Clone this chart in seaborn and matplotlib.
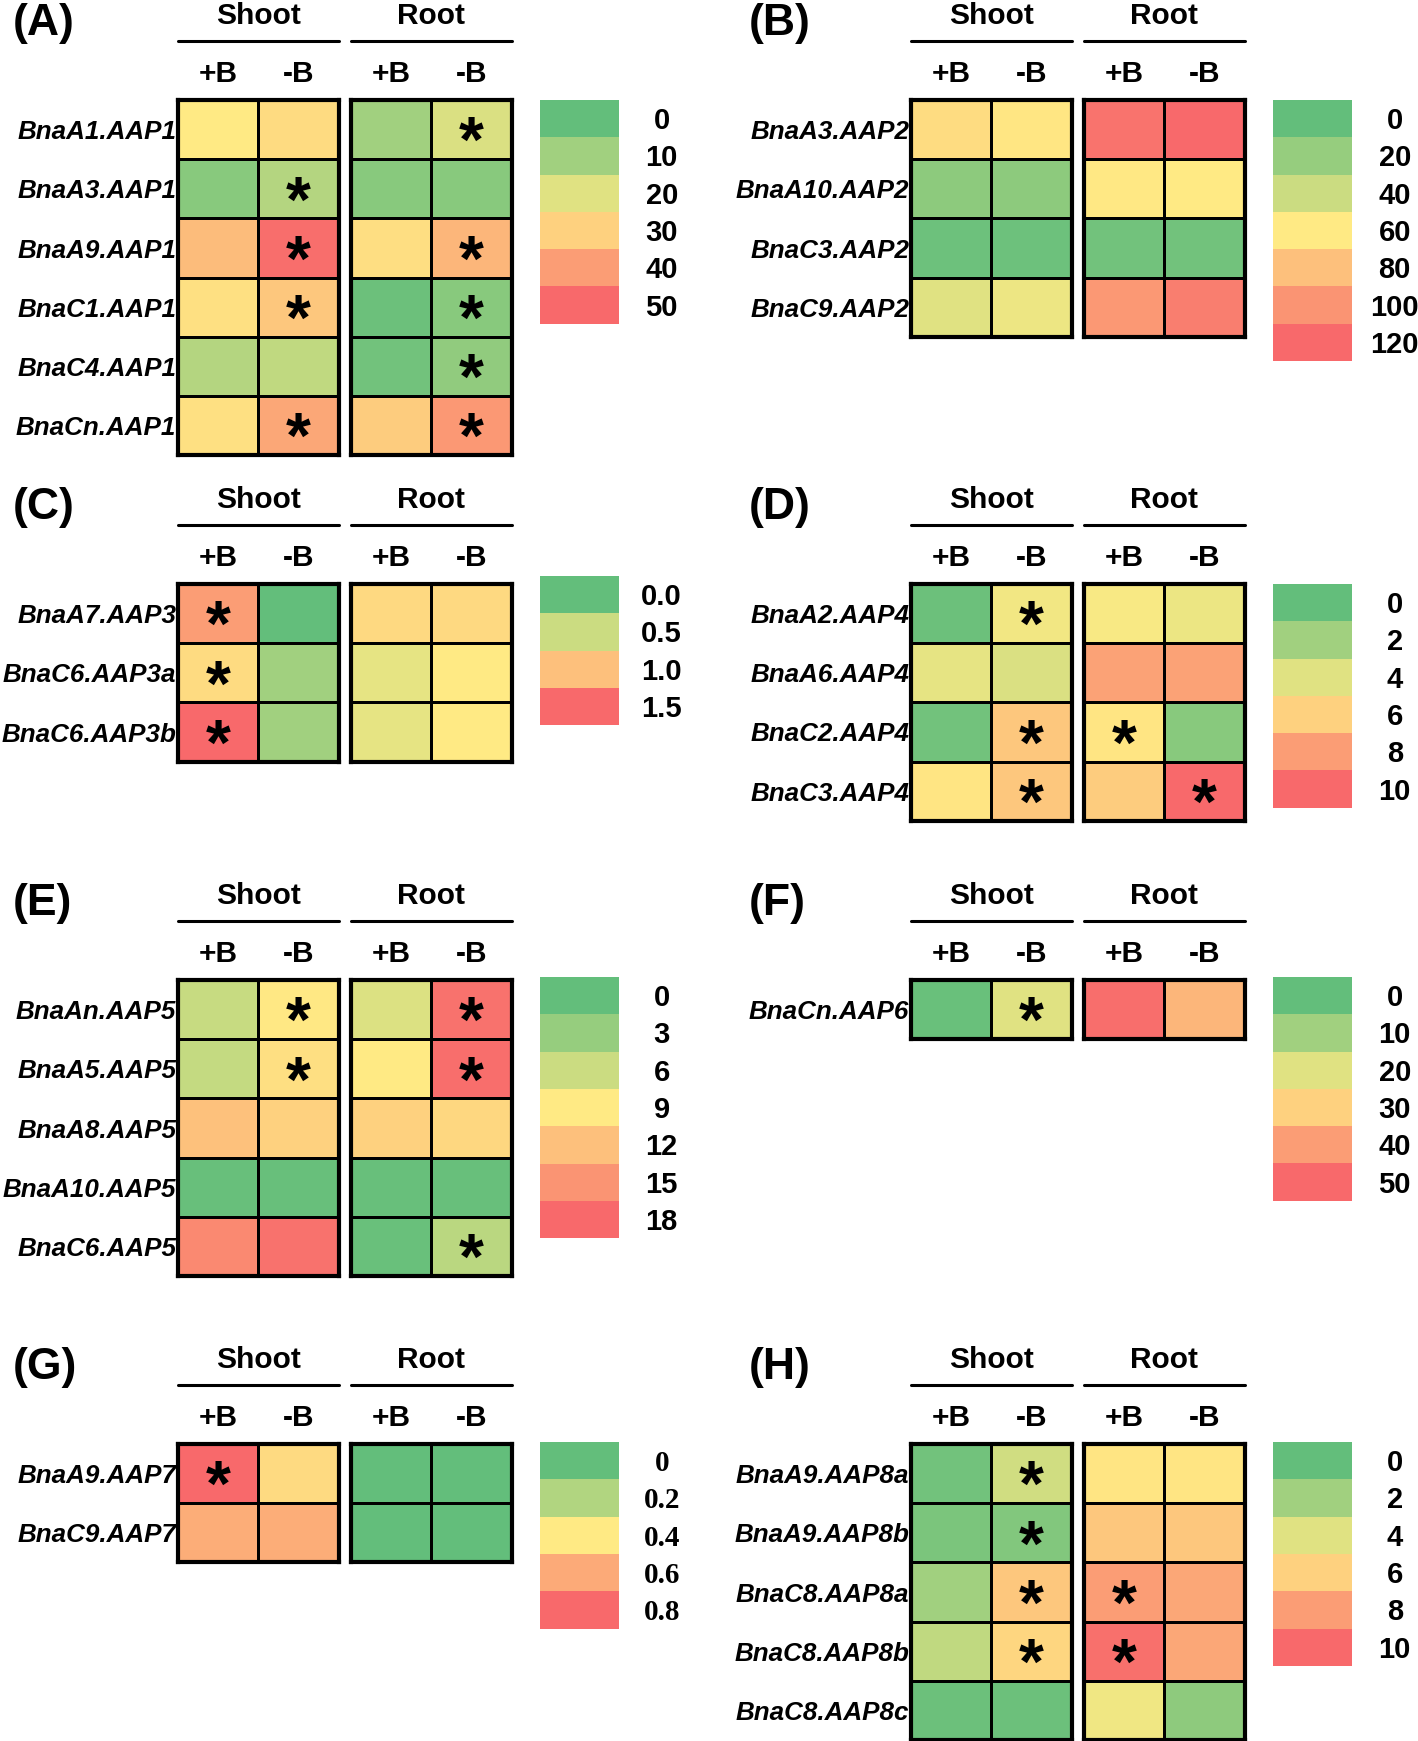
import numpy as np
import matplotlib.pyplot as plt
import seaborn as sns
from matplotlib.colors import LinearSegmentedColormap
from matplotlib.lines import Line2D

sns.set_theme(style="white")
plt.rcParams['font.family'] = ['Liberation Sans', 'DejaVu Sans']

# Excel-like green / yellow / red colour scale
cmap = LinearSegmentedColormap.from_list('gyr', ['#63BE7B', '#FFEB84', '#F8696B'])

genes_a = ['BnaA1.AAP1', 'BnaA3.AAP1', 'BnaA9.AAP1', 'BnaC1.AAP1', 'BnaC4.AAP1', 'BnaCn.AAP1']
shoot_a = [[25, 28], [6, 13], [34, 49], [27, 32], [13, 15], [27, 38]]
root_a = [[10, 19], [6, 6], [27.5, 35], [1.5, 6], [2.5, 7.5], [31, 41]]
stars_a = [(0, 3), (1, 1), (2, 1), (2, 3), (3, 1), (3, 3), (4, 3), (5, 1), (5, 3)]
scale_a = ['0', '10', '20', '30', '40', '50']

genes_b = ['BnaA3.AAP2', 'BnaA10.AAP2', 'BnaC3.AAP2', 'BnaC9.AAP2']
shoot_b = [[67, 62], [16, 16], [4, 4], [48, 53]]
root_b = [[115, 120], [61, 60], [6, 6], [98, 110]]
stars_b = []
scale_b = ['0', '20', '40', '60', '80', '100', '120']

genes_c = ['BnaA7.AAP3', 'BnaC6.AAP3a', 'BnaC6.AAP3b']
shoot_c = [[1.2, 0.0], [0.84, 0.3], [1.5, 0.3]]
root_c = [[0.85, 0.85], [0.63, 0.75], [0.63, 0.75]]
stars_c = [(0, 0), (1, 0), (2, 0)]
scale_c = ['0.0', '0.5', '1.0', '1.5']

genes_d = ['BnaA2.AAP4', 'BnaA6.AAP4', 'BnaC2.AAP4', 'BnaC3.AAP4']
shoot_d = [[0.3, 4.6], [4.2, 3.8], [0.5, 6.4], [5.2, 6.4]]
root_d = [[4.8, 4.4], [7.8, 7.8], [5.2, 1.2], [6.2, 10]]
stars_d = [(0, 1), (2, 1), (2, 2), (3, 1), (3, 3)]
scale_d = ['0', '2', '4', '6', '8', '10']

genes_e = ['BnaAn.AAP5', 'BnaA5.AAP5', 'BnaA8.AAP5', 'BnaA10.AAP5', 'BnaC6.AAP5']
shoot_e = [[5.8, 9.2], [5.6, 9.8], [11.9, 10.8], [0.3, 0.3], [15.8, 17.3]]
root_e = [[7.0, 17.3], [9.0, 17.6], [10.8, 10.4], [0.3, 0.3], [0.4, 5.0]]
stars_e = [(0, 1), (0, 3), (1, 1), (1, 3), (4, 3)]
scale_e = ['0', '3', '6', '9', '12', '15', '18']

genes_f = ['BnaCn.AAP6']
shoot_f = [[1, 20]]
root_f = [[49, 35]]
stars_f = [(0, 1)]
scale_f = ['0', '10', '20', '30', '40', '50']

genes_g = ['BnaA9.AAP7', 'BnaC9.AAP7']
shoot_g = [[0.8, 0.45], [0.59, 0.59]]
root_g = [[0.0, 0.0], [0.0, 0.0]]
stars_g = [(0, 0)]
scale_g = ['0', '0.2', '0.4', '0.6', '0.8']

genes_h = ['BnaA9.AAP8a', 'BnaA9.AAP8b', 'BnaC8.AAP8a', 'BnaC8.AAP8b', 'BnaC8.AAP8c']
shoot_h = [[0.5, 3.5], [0.8, 1.0], [2.0, 6.4], [3.0, 5.8], [0.3, 0.3]]
root_h = [[5.2, 5.2], [6.4, 6.4], [8.0, 7.6], [9.7, 7.6], [4.5, 1.4]]
stars_h = [(0, 1), (1, 1), (2, 1), (2, 2), (3, 1), (3, 2)]
scale_h = ['0', '2', '4', '6', '8', '10']

# letter, genes, shoot, root, stars, scale, column, top of rows, top of colour key
panels = [
    ('(A)', genes_a, shoot_a, root_a, stars_a, scale_a, 0, 100, 100),
    ('(B)', genes_b, shoot_b, root_b, stars_b, scale_b, 1, 100, 100),
    ('(C)', genes_c, shoot_c, root_c, stars_c, scale_c, 0, 584, 576),
    ('(D)', genes_d, shoot_d, root_d, stars_d, scale_d, 1, 584, 584),
    ('(E)', genes_e, shoot_e, root_e, stars_e, scale_e, 0, 980, 977),
    ('(F)', genes_f, shoot_f, root_f, stars_f, scale_f, 1, 980, 977),
    ('(G)', genes_g, shoot_g, root_g, stars_g, scale_g, 0, 1444, 1442),
    ('(H)', genes_h, shoot_h, root_h, stars_h, scale_h, 1, 1444, 1442),
]

W, H = 1418, 1741
fig = plt.figure(figsize=(W / 100, H / 100), dpi=100)

CELL_W, CELL_H, GAP = 80.5, 59.2, 12.2
BIN_H = 37.3
FS = 21.5        # headers, +B/-B
FS_GENE = 18.7   # gene names
FS_KEY = 21      # colour key numbers
STAR = 46


def add_px(x, y, w, h):
    return fig.add_axes([x / W, 1 - (y + h) / H, w / W, h / H])


def label(x, yc, s, size=FS, ha='center', family=None):
    # place text so that the capitals are centred on yc (pixels from top)
    base = yc + 0.358 * size * 100 / 72
    kw = dict(ha=ha, va='baseline', fontsize=size, fontweight='bold', color='black')
    if family:
        kw['family'] = family
    fig.text(x / W, 1 - base / H, s, **kw)


for letter, genes, shoot, root, stars, scale, col, top, ctop in panels:
    off = 733 * col
    x_shoot = 177.7 + off
    x_root = x_shoot + 2 * CELL_W + GAP
    n = len(genes)
    vmax = float(scale[-1])

    axes = []
    for i, (name, vals, x) in enumerate([('Shoot', shoot, x_shoot), ('Root', root, x_root)]):
        ax = add_px(x, top, 2 * CELL_W, n * CELL_H)
        sns.heatmap(np.array(vals, dtype=float), ax=ax, cmap=cmap, vmin=0, vmax=vmax,
                    cbar=False, linewidths=2, linecolor='black',
                    xticklabels=False, yticklabels=False)
        for sp in ax.spines.values():
            sp.set_visible(True)
            sp.set_linewidth(3)
            sp.set_color('black')
        if i == 0:
            ax.set_yticks(np.arange(n) + 0.5)
            ax.set_yticklabels(genes, rotation=0, fontsize=FS_GENE, fontweight='bold',
                               fontstyle='italic', color='black')
            ax.tick_params(axis='y', length=0, pad=1)
        axes.append(ax)

        # group header, rule and +B / -B
        label(x + CELL_W, top - 86.5, name)
        fig.add_artist(Line2D([x / W, (x + 2 * CELL_W) / W], [1 - (top - 59) / H] * 2,
                              color='black', lw=2.2))
        label(x + 0.5 * CELL_W, top - 28.5, '+B')
        label(x + 1.5 * CELL_W, top - 28.5, '-B')

    for r, c in stars:
        ax = axes[c // 2]
        ax.annotate('*', xy=(c % 2 + 0.5, r + 0.5), xytext=(0, -0.51 * STAR),
                    textcoords='offset points', ha='center', va='baseline',
                    fontsize=STAR, fontweight='bold', color='black')

    label(13 + (736 if col else 0), top - 80.5, letter, size=32, ha='left')

    # discrete colour key
    cb_vals = np.array([float(s) for s in scale]).reshape(-1, 1)
    cax = add_px(540.8 + off - 1, ctop, 78.8, len(scale) * BIN_H)
    sns.heatmap(cb_vals, ax=cax, cmap=cmap, vmin=0, vmax=vmax, cbar=False,
                xticklabels=False, yticklabels=False)
    fam = 'Liberation Serif' if letter == '(G)' else None
    for k, s in enumerate(scale):
        label(660.7 + off + 1, ctop + (k + 0.5) * BIN_H, s, size=FS_KEY, family=fam)

fig.savefig('out.png', dpi=100, facecolor='white')
